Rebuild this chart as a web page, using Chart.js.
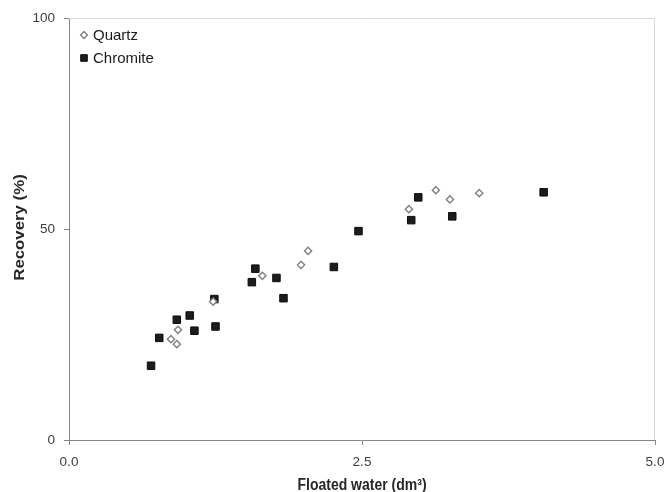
<!DOCTYPE html>
<html>
<head>
<meta charset="utf-8">
<script src="https://cdn.jsdelivr.net/npm/chart.js@4/dist/chart.umd.min.js"></script>
<style>
html,body{margin:0;padding:0;background:#fff;}
#wrap{width:667px;height:492px;}
</style>
</head>
<body>
<div id="wrap"><canvas id="c" width="667" height="492"></canvas></div>
<script>
const quartzX = [0.87, 0.92, 0.93, 1.23, 1.65, 1.98, 2.04, 2.90, 3.13, 3.25, 3.50];
const quartzY = [23.9, 22.7, 26.1, 32.8, 38.9, 41.5, 44.8, 54.7, 59.2, 57.0, 58.5];
const chromiteX = [0.70, 0.77, 0.92, 1.03, 1.07, 1.24, 1.25, 1.56, 1.59, 1.77, 1.83, 2.26, 2.47, 2.92, 2.98, 3.27, 4.05];
const chromiteY = [17.6, 24.2, 28.5, 29.5, 25.9, 33.4, 26.9, 37.4, 40.6, 38.4, 33.6, 41.0, 49.5, 52.1, 57.5, 53.0, 58.7];
const xTicks = [0, 2.5, 5];
const yTicks = [0, 50, 100];
const seriesNames = ['Quartz', 'Chromite'];
const xTitle = 'Floated water (dm\u00B3)';
const yTitle = 'Recovery (%)';

const FONT = '"Liberation Sans", Arial, sans-serif';
const toPts = (xs, ys) => xs.map((x, i) => ({x: x, y: ys[i]}));

const frameLegendTitles = {
  id: 'frameLegendTitles',
  beforeDatasetsDraw(chart) {
    const a = chart.chartArea, ctx = chart.ctx;
    ctx.save();
    ctx.strokeStyle = '#d9d9d9';
    ctx.lineWidth = 1;
    ctx.beginPath();
    ctx.moveTo(a.left, a.top + 0.5);
    ctx.lineTo(a.right - 0.5, a.top + 0.5);
    ctx.lineTo(a.right - 0.5, a.bottom);
    ctx.stroke();
    ctx.restore();
  },
  afterDraw(chart) {
    const a = chart.chartArea, ctx = chart.ctx;
    ctx.save();
    // legend
    ctx.font = '15px ' + FONT;
    ctx.textBaseline = 'middle';
    ctx.textAlign = 'left';
    const lx = a.left + 15, ly0 = a.top + 17, dy = 23;
    chart.data.datasets.forEach((ds, i) => {
      const y = ly0 + i * dy;
      ctx.fillStyle = ds.backgroundColor;
      ctx.strokeStyle = ds.borderColor;
      ctx.lineWidth = ds.borderWidth;
      ctx.beginPath();
      if (ds.pointStyle === 'rect') {
        const s = 3.3;
        ctx.rect(lx - s, y - s, 2 * s, 2 * s);
      } else {
        const r = 3.4;
        ctx.moveTo(lx, y - r); ctx.lineTo(lx + r, y); ctx.lineTo(lx, y + r); ctx.lineTo(lx - r, y); ctx.closePath();
      }
      ctx.fill(); ctx.stroke();
      ctx.fillStyle = '#1a1a1a';
      ctx.fillText(ds.label, lx + 9, y + 1);
    });
    // axis titles (source image is slightly stretched vertically)
    ctx.fillStyle = '#262626';
    ctx.font = 'bold 14px ' + FONT;
    ctx.textAlign = 'center';
    ctx.textBaseline = 'alphabetic';
    ctx.save();
    ctx.translate((a.left + a.right) / 2, 490);
    ctx.scale(1, 1.17);
    ctx.fillText(xTitle, 0, 0);
    ctx.restore();
    ctx.save();
    ctx.translate(23.5, (a.top + a.bottom) / 2 - 1.5);
    ctx.rotate(-Math.PI / 2);
    ctx.scale(1.2, 1);
    ctx.fillText(yTitle, 0, 0);
    ctx.restore();
    ctx.restore();
  }
};

new Chart(document.getElementById('c'), {
  type: 'scatter',
  data: {
    datasets: [
      {
        label: seriesNames[0],
        data: toPts(quartzX, quartzY),
        pointStyle: 'rectRot',
        pointRadius: 3.6,
        borderWidth: 1.4,
        backgroundColor: '#ffffff',
        borderColor: '#7f7f7f'
      },
      {
        label: seriesNames[1],
        data: toPts(chromiteX, chromiteY),
        pointStyle: 'rect',
        pointRadius: 5.3,
        borderWidth: 1,
        backgroundColor: '#1c1c1c',
        borderColor: '#0d0d0d'
      }
    ]
  },
  options: {
    responsive: false,
    animation: false,
    devicePixelRatio: 1,
    layout: {padding: {left: 0, top: 18, right: 12, bottom: 0}},
    plugins: {legend: {display: false}, tooltip: {enabled: false}},
    scales: {
      x: {
        type: 'linear', min: 0, max: 5,
        afterBuildTicks: s => { s.ticks = xTicks.map(v => ({value: v})); },
        afterFit: s => { s.height = 52; s.paddingLeft = 0; s.paddingRight = 0; },
        ticks: {
          callback: v => Number(v).toFixed(1),
          font: {family: FONT, size: 13.5},
          color: '#404040', padding: 9, maxRotation: 0
        },
        grid: {drawOnChartArea: false, drawTicks: true, tickLength: 5, color: '#868686'},
        border: {color: '#868686', width: 1}
      },
      y: {
        type: 'linear', min: 0, max: 100,
        afterBuildTicks: s => { s.ticks = yTicks.map(v => ({value: v})); },
        afterFit: s => { s.width = 69; s.paddingTop = 0; s.paddingBottom = 0; },
        ticks: {
          font: {family: FONT, size: 13.5},
          color: '#404040', padding: 9
        },
        grid: {drawOnChartArea: false, drawTicks: true, tickLength: 5, color: '#868686'},
        border: {color: '#868686', width: 1}
      }
    }
  },
  plugins: [frameLegendTitles]
});
</script>
</body>
</html>
